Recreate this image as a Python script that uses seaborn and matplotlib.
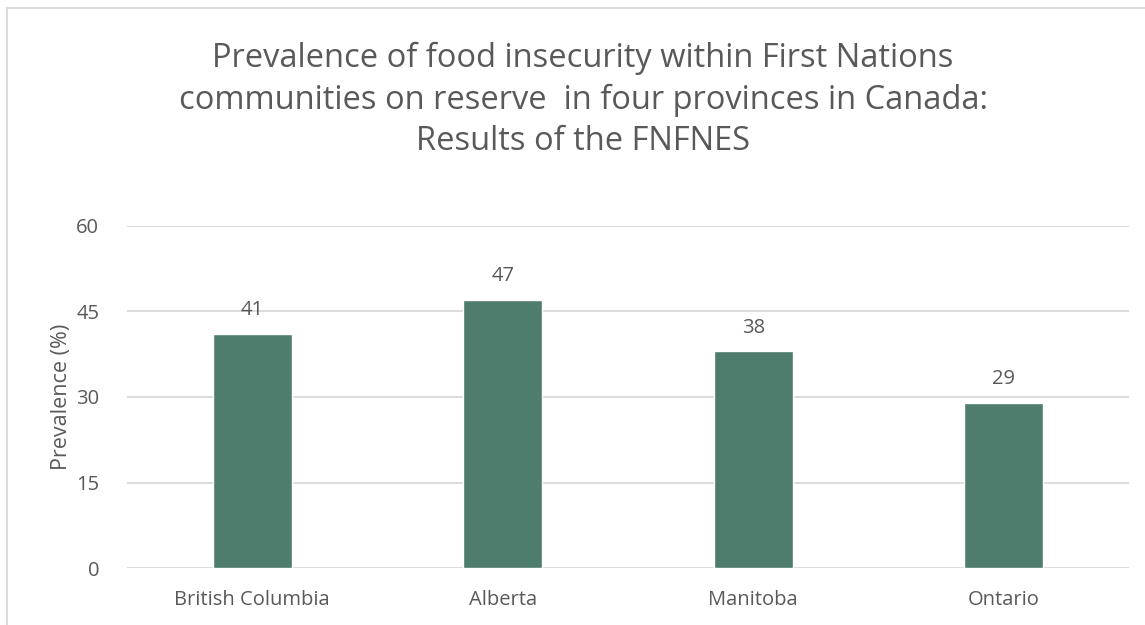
import pandas as pd
import seaborn as sns
import matplotlib.pyplot as plt
from matplotlib.patches import Rectangle

# Data
provinces = ["British Columbia", "Alberta", "Manitoba", "Ontario"]
prevalence = [41, 47, 38, 29]
y_ticks = [0, 15, 30, 45, 60]

df = pd.DataFrame({"province": provinces, "prevalence": prevalence})

sns.set_theme(style="white")
plt.rcParams["font.family"] = ["Open Sans", "DejaVu Sans"]

text_color = "#595959"
bar_color = "#4E7D6E"
grid_color = "#D9D9D9"

fig = plt.figure(figsize=(11.45, 6.25), dpi=100)
ax = fig.add_axes([127 / 1145, 57 / 625, 1002 / 1145, 342 / 625])

sns.barplot(data=df, x="province", y="prevalence", color=bar_color,
            width=0.316, saturation=1, ax=ax, zorder=3)

ax.set_ylim(0, 60)
ax.set_yticks(y_ticks)
ax.set_xlim(-0.5, len(provinces) - 0.5)
ax.yaxis.grid(True, color=grid_color, linewidth=1.3, zorder=0)
ax.set_axisbelow(True)
for s in ax.spines.values():
    s.set_visible(False)

ax.tick_params(axis="y", length=0, pad=20, labelsize=14.5, labelcolor=text_color)
ax.tick_params(axis="x", length=0, pad=16, labelsize=14.5, labelcolor=text_color)
ax.set_xlabel("")
ax.set_ylabel("Prevalence (%)", fontsize=15.5, color=text_color, labelpad=3)

# value labels
for i, v in enumerate(prevalence):
    ax.annotate(str(v), (i, v), xytext=(0, 10), textcoords="offset points",
                ha="center", va="bottom", fontsize=14.5, color=text_color)

# title
fig.text(583 / 1145, 1 - 100 / 625,
         "Prevalence of food insecurity within First Nations\n"
         "communities on reserve  in four provinces in Canada:\n"
         "Results of the FNFNES",
         ha="center", va="center", fontsize=23.5, color=text_color,
         linespacing=1.33)

# chart border
fig.patches.append(Rectangle((7 / 1145, -0.1), 1.2, 1 - 8 / 625 + 0.1,
                             transform=fig.transFigure, fill=False,
                             edgecolor="#D9D9D9", linewidth=1.3))

fig.savefig("out.png", dpi=100, facecolor="white")
